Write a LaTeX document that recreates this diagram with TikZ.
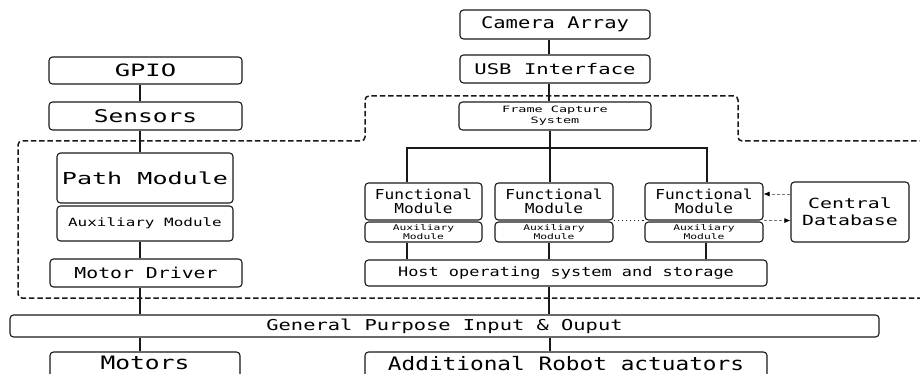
\documentclass[tikz,border=0pt]{standalone}
\usepackage{fontspec}
\setmainfont{DejaVu Sans Mono}
\usetikzlibrary{arrows.meta}

\tikzset{
  x=1pt, y=-1pt,
  blk/.style={draw=black!90, line width=1.1pt, rounded corners=3.5pt, inner sep=0pt, align=center},
  ft/.style n args={3}{font=\fontsize{#1}{#2}\selectfont\addfontfeature{FakeStretch=#3}},
  wire/.style={draw=black!90, line width=1.1pt},
  zone/.style={draw=black!90, line width=1.5pt, dash pattern=on 5.5pt off 2.8pt, rounded corners=4pt},
  dblink/.style={draw=black!55, line width=0.7pt, dash pattern=on 3pt off 2pt, -{Latex[length=6pt,width=5pt,black]}},
  peer/.style={draw=black!90, line width=1.4pt, dash pattern=on 1.3pt off 2.8pt}
}

% box from corner (x1,y1) to corner (x2,y2)
\newcommand{\blkbox}[7]{%
  \node[blk, #6, minimum width={(#4-#2)*1pt}, minimum height={(#5-#3)*1pt}]
    (#1) at ({(#2+#4)/2},{(#3+#5)/2}) {#7};}

\begin{document}
\begin{tikzpicture}
\useasboundingbox (0,0) rectangle (920,374);
\fill[white] (0,0) rectangle (920,374);
\clip (0,0) rectangle (920,374);

% camera chain
\blkbox{cam}{460}{10}{650}{39}{ft={16}{19}{1.28}}{Camera Array}
\blkbox{usb}{460}{55}{650}{83}{ft={14.7}{17}{1.4}}{USB Interface}
\blkbox{fcs}{459}{102}{651}{130}{ft={8.7}{10.7}{1.55}}{Frame Capture\\System}

% left column
\blkbox{gpio}{49}{57}{242}{84}{ft={17}{20}{1.5}}{GPIO}
\blkbox{sens}{49}{102}{242}{130}{ft={17.5}{20}{1.4}}{Sensors}
\blkbox{path}{57}{153}{233}{203}{ft={16.5}{20}{1.52}}{Path Module}
\blkbox{auxl}{57}{206}{233}{241}{ft={11.4}{14}{1.4}}{Auxiliary Module}
\blkbox{mdrv}{50}{259}{242}{287}{ft={15}{18}{1.32}}{Motor Driver}

% functional modules
\blkbox{fa}{365}{183}{482}{220}{ft={13.7}{14.5}{1.18}}{Functional\\Module}
\blkbox{fb}{495}{183}{613}{220}{ft={13.7}{14.5}{1.18}}{Functional\\Module}
\blkbox{fc}{645}{183}{763}{220}{ft={13.7}{14.5}{1.18}}{Functional\\Module}
\blkbox{aa}{365}{222}{482}{242}{ft={7.8}{9}{1.45}}{Auxiliary\\Module}
\blkbox{ab}{495}{222}{613}{242}{ft={7.8}{9}{1.45}}{Auxiliary\\Module}
\blkbox{ac}{645}{222}{763}{242}{ft={7.8}{9}{1.45}}{Auxiliary\\Module}
\blkbox{host}{365}{260}{767}{286}{ft={13}{15}{1.3}}{Host operating system and storage}
\blkbox{db}{791}{182}{909}{242}{ft={14}{16.7}{1.42}}{Central\\Database}

% bus and actuators (their lower edges run past the bottom)
\blkbox{bus}{10}{315}{879}{337}{ft={15}{18}{1.36}}{General Purpose Input \& Ouput}
\blkbox{mot}{50}{352}{240}{382}{ft={18.5}{22}{1.33}, text depth=8pt}{Motors}
\blkbox{act}{365}{352}{767}{382}{ft={18.5}{22}{1.23}, text depth=8pt}{Additional Robot actuators}

% onboard boundary
\draw[zone] (925,141) -- (738,141) -- (738,96) -- (365,96) -- (365,141)
            -- (18,141) -- (18,298) -- (925,298);

% left chain wiring
\draw[wire] (140,0 |- gpio.south) -- (140,0 |- sens.north);
\draw[wire] (140,0 |- sens.south) -- (140,0 |- path.north);
\draw[wire] (140,0 |- auxl.south) -- (140,0 |- mdrv.north);
\draw[wire] (140,0 |- mdrv.south) -- (140,0 |- bus.north);
\draw[wire] (140,0 |- bus.south) -- (140,0 |- mot.north);

% camera chain wiring
\draw[wire] (549,0 |- cam.south) -- (549,0 |- usb.north);
\draw[wire] (549,0 |- usb.south) -- (549,0 |- fcs.north);
\coordinate (split) at (550,148);
\draw[wire] (550,0 |- fcs.south) -- (split);
\draw[wire] (407,0 |- fa.north) |- (split) -| (707,0 |- fc.north);
\draw[wire] (split) -- (550,0 |- fb.north);

% modules to host, host to bus
\draw[wire] (407,0 |- aa.south) -- (407,0 |- host.north);
\draw[wire] (549,0 |- ab.south) -- (549,0 |- host.north);
\draw[wire] (706,0 |- ac.south) -- (706,0 |- host.north);
\draw[wire] (549,0 |- host.south) -- (549,0 |- bus.north);
\draw[wire] (550,0 |- bus.south) -- (550,0 |- act.north);

% database exchange and peer link
\draw[dblink] (db.west |- 0,194) -- (fc.east |- 0,194);
\draw[dblink] (fc.south east) -- (db.west |- fc.south east);
\draw[peer] (fb.south east) -- (fc.south west);
\end{tikzpicture}
\end{document}
